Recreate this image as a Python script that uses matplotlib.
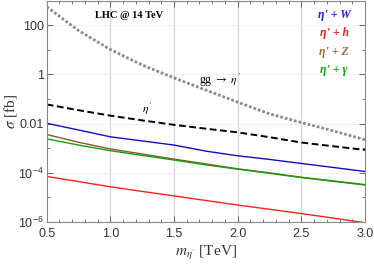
import matplotlib
matplotlib.use("Agg")
import matplotlib.pyplot as plt
from matplotlib.ticker import FixedLocator, NullFormatter, MultipleLocator

plt.rcParams["mathtext.fontset"] = "stix"

mass = [0.5, 0.75, 1.0, 1.25, 1.5, 1.75, 2.0, 2.25, 2.5, 2.75, 3.0]
gg_eta = [560, 60, 10.2, 2.4, 0.72, 0.23, 0.074, 0.025, 0.011, 0.0051, 0.0022]
eta = [0.060, 0.035, 0.021, 0.0135, 0.0089, 0.0062, 0.0044, 0.0028, 0.0017, 0.0012, 0.00085]
eta_W = [0.0103, 0.0055, 0.0029, 0.00197, 0.00134, 0.00076, 0.00049, 0.00035, 0.00024, 0.000165, 0.000113]
eta_Z = [0.0036, 0.00174, 0.00093, 0.00058, 0.00036, 0.00023, 0.000145, 0.0001, 6.6e-5, 4.7e-5, 3.3e-5]
eta_gamma = [0.0024, 0.00134, 0.00079, 0.00051, 0.00033, 0.00021, 0.000141, 9.5e-5, 6.4e-5, 4.5e-5, 3.2e-5]
eta_h = [7.1e-5, 4.4e-5, 2.7e-5, 1.75e-5, 1.15e-5, 7.5e-6, 4.9e-6, 3.3e-6, 2.2e-6, 1.45e-6, 9.3e-7]

xticks = [0.5, 1.0, 1.5, 2.0, 2.5, 3.0]
yticks = [1e-6, 1e-4, 1e-2, 1, 100]
yticklabels = [r"$\mathregular{10^{-6}}$", r"$\mathregular{10^{-4}}$", "0.01", "1", "100"]

fig = plt.figure(figsize=(3.74, 2.64), dpi=100)
ax = fig.add_axes([0.1249, 0.159, 0.851, 0.839])

ax.plot(mass, gg_eta, color="#8c8c8c", lw=2.0, ls=(0, (1.0, 0.7)))
ax.plot(mass, eta, color="black", lw=1.4, ls=(0, (3.5, 1.8)))
ax.plot(mass, eta_W, color="#1010c0", lw=1.0)
ax.plot(mass, eta_Z, color="#8b5a2b", lw=1.0)
ax.plot(mass, eta_gamma, color="#10a010", lw=1.0)
ax.plot(mass, eta_h, color="#ff2020", lw=1.0)

ax.set_yscale("log")
ax.set_xlim(0.5, 3.0)
ax.set_ylim(1e-6, 1000)
ax.yaxis.set_major_locator(FixedLocator(yticks))
ax.set_yticklabels(yticklabels)
ax.yaxis.set_minor_locator(FixedLocator([1e-5, 1e-3, 1e-1, 10, 1000]))
ax.yaxis.set_minor_formatter(NullFormatter())
ax.set_xticks(xticks)
ax.set_xticklabels([f"{t:.1f}" for t in xticks])
ax.xaxis.set_minor_locator(MultipleLocator(0.1))
for lab in ax.get_xticklabels() + ax.get_yticklabels():
    lab.set_family("Liberation Sans")

ax.tick_params(which="both", direction="in", top=True, right=True, color="#666666",
               labelsize=9, labelcolor="#333333")
ax.tick_params(which="major", length=4, width=0.7)
ax.tick_params(which="minor", length=2, width=0.6)
ax.tick_params(axis="y", pad=2)
ax.tick_params(axis="x", pad=4)
for s in ax.spines.values():
    s.set_color("#888888")
    s.set_linewidth(0.8)

for xv in [1.0, 1.5, 2.0, 2.5]:
    ax.axvline(xv, color="#d9d9d9", lw=1.0, zorder=0)
for yv in [1e-4, 1e-2, 1, 100]:
    ax.axhline(yv, color="#f0f0f0", lw=0.8, zorder=0)

ax.set_xlabel(r"$m_{\eta'}$ [TeV]", family="Liberation Serif", fontsize=11, color="#333333")
ax.xaxis.set_label_coords(0.5, -0.1)
ax.set_ylabel(r"$\sigma$ [fb]", family="Liberation Serif", fontsize=11, color="#333333")
ax.yaxis.set_label_coords(-0.088, 0.5)

ax.text(1.15, 257, "LHC @ 14 TeV", family="Liberation Serif", weight="bold", fontsize=7.5,
        ha="center", va="center")
ax.text(1.86, 0.57, r"gg $\rightarrow$ $\eta'$", family="Liberation Serif", fontsize=8.5,
        ha="center", va="center")
ax.text(1.29, 0.041, r"$\eta'$", family="Liberation Serif", fontsize=8.5,
        ha="center", va="center")

labels = ["\u03b7' + W", "\u03b7' + h", "\u03b7' + Z", "\u03b7' + \u03b3"]
colors = ["#1a1aff", "#ff1a1a", "#a0703c", "#10a010"]
ypix = [15, 33, 52, 70]
for lab, c, yp in zip(labels, colors, ypix):
    fig.text(334 / 374, 1 - yp / 264, lab, color=c, fontsize=8.5, weight="bold", style="italic",
             family="Liberation Serif", ha="center", va="center")

fig.savefig("out.png", dpi=100)
